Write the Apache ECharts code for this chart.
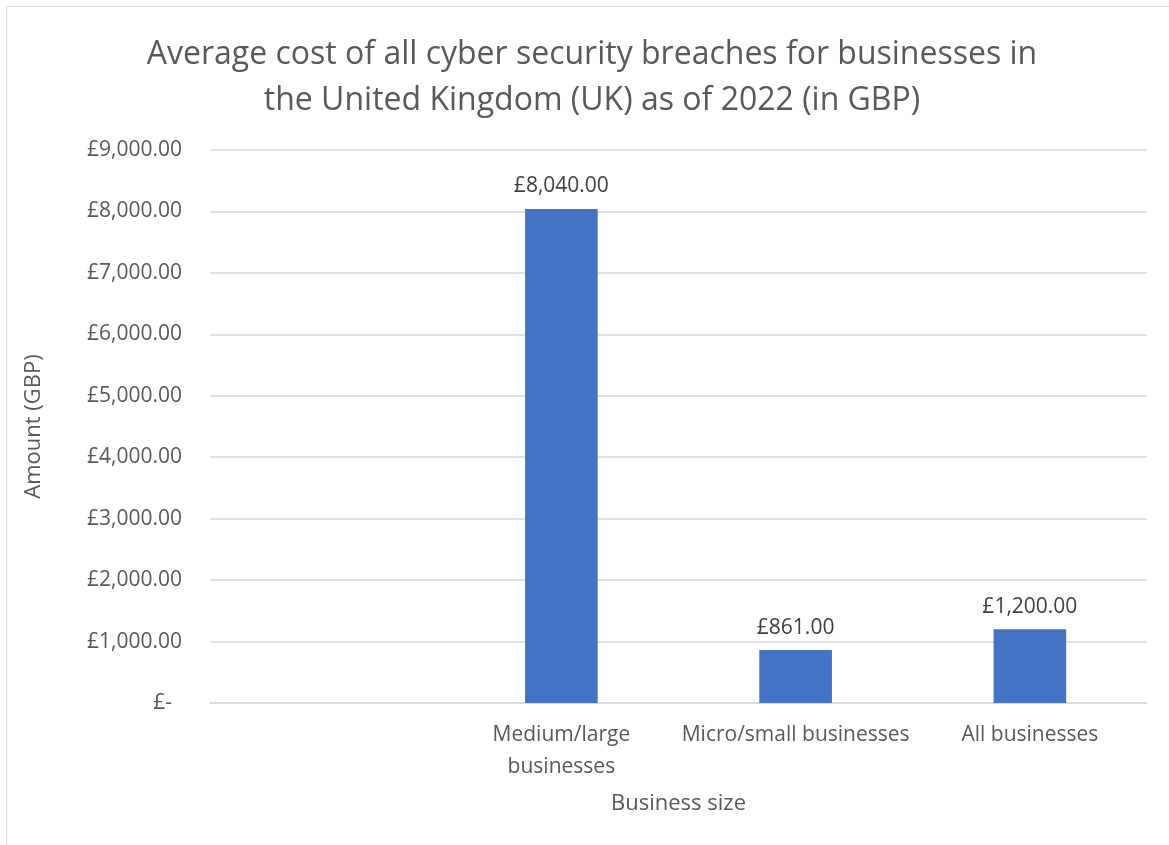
<!DOCTYPE html>
<html><head><meta charset="utf-8">
<script src="https://cdn.jsdelivr.net/npm/echarts@6/dist/echarts.min.js"></script>
<style>html,body{margin:0;padding:0;background:#fff;}#c{width:1169px;height:845px;}</style>
</head><body><div id="c"></div>
<script>
const titleText = 'Average cost of all cyber security breaches for businesses in\nthe United Kingdom (UK) as of 2022 (in GBP)';
const categories = ['', 'Medium/large\nbusinesses', 'Micro/small businesses', 'All businesses'];
const values = ['-', 8040, 861, 1200];
const yMin = 0, yMax = 9000, yInterval = 1000;
const xName = 'Business size';
const yName = 'Amount (GBP)';

const FONT = '"Open Sans", "Noto Sans", sans-serif';
const GREY = '#595959';
function money(v) {
  return '£' + Number(v).toLocaleString('en-GB', {minimumFractionDigits: 2, maximumFractionDigits: 2});
}
const chart = echarts.init(document.getElementById('c'));
chart.setOption({
  animation: false,
  backgroundColor: '#fff',
  graphic: [{
    type: 'rect', shape: {x: 6.5, y: 6.5, width: 1300, height: 1000},
    style: {fill: 'none', stroke: '#d9d9d9', lineWidth: 1}, silent: true, z: -1
  }],
  title: {
    text: titleText, left: 587, top: 27, textAlign: 'center',
    textStyle: {fontFamily: FONT, fontSize: 32, fontWeight: 'normal', color: GREY, lineHeight: 46}
  },
  grid: {left: 210, right: 22, top: 150, bottom: 142},
  xAxis: {
    type: 'category', data: categories,
    name: xName, nameLocation: 'middle', nameGap: 90,
    nameTextStyle: {fontFamily: FONT, fontSize: 22, color: GREY},
    axisLine: {lineStyle: {color: '#d9d9d9', width: 1.5}},
    axisTick: {show: false},
    axisLabel: {fontFamily: FONT, fontSize: 21, color: GREY, margin: 16, lineHeight: 32, interval: 0}
  },
  yAxis: {
    type: 'value', min: yMin, max: yMax, interval: yInterval,
    name: yName, nameLocation: 'middle', nameGap: 165,
    nameTextStyle: {fontFamily: FONT, fontSize: 22, color: GREY},
    axisLine: {show: false}, axisTick: {show: false},
    splitLine: {lineStyle: {color: '#d9d9d9', width: 1.5}},
    axisLabel: {
      fontFamily: FONT, fontSize: 21, color: GREY, margin: 28,
      formatter: v => v === 0 ? '{z|£-}' : money(v),
      rich: {z: {fontFamily: FONT, fontSize: 21, color: GREY, padding: [0, 10, 0, 0]}}
    }
  },
  series: [{
    type: 'bar', data: values, barWidth: '31%',
    itemStyle: {color: '#4472c4'},
    label: {
      show: true, position: 'top', distance: 12,
      fontFamily: FONT, fontSize: 21, color: '#404040',
      formatter: p => money(p.value)
    }
  }]
});
</script></body></html>
